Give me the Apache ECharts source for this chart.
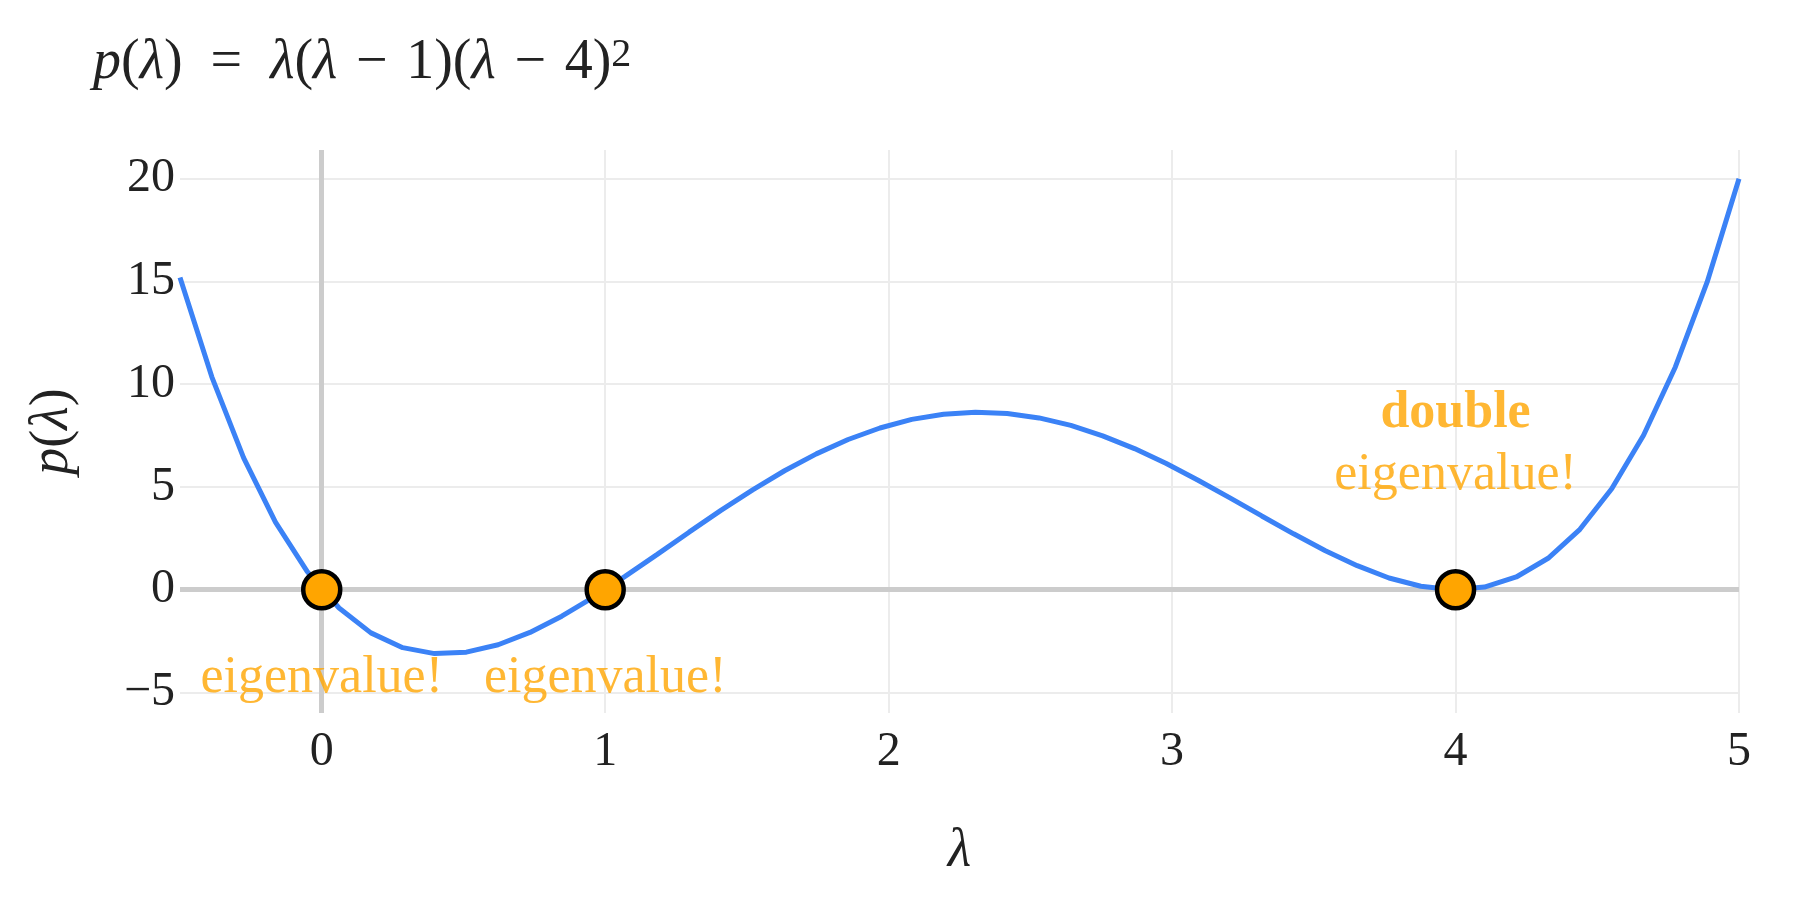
<!DOCTYPE html>
<html><head><meta charset="utf-8">
<script src="https://cdn.jsdelivr.net/npm/echarts@6/dist/echarts.min.js"></script>
<style>html,body{margin:0;padding:0;background:#fff}#c{width:1800px;height:900px}</style>
</head><body><div id="c"></div>
<script>
const xValues = [-0.5, -0.3878, -0.2755, -0.1633, -0.051, 0.0612, 0.1735, 0.2857, 0.398, 0.5102,
  0.6224, 0.7347, 0.8469, 0.9592, 1.0714, 1.1837, 1.2959, 1.4082, 1.5204, 1.6327,
  1.7449, 1.8571, 1.9694, 2.0816, 2.1939, 2.3061, 2.4184, 2.5306, 2.6429, 2.7551,
  2.8673, 2.9796, 3.0918, 3.2041, 3.3163, 3.4286, 3.5408, 3.6531, 3.7653, 3.8776,
  3.9898, 4.102, 4.2143, 4.3265, 4.4388, 4.551, 4.6633, 4.7755, 4.8878, 5];
const pValues = [15.19, 10.36, 6.42, 3.29, 0.88, -0.89, -2.10, -2.82, -3.11, -3.04,
  -2.68, -2.08, -1.29, -0.36, 0.66, 1.72, 2.80, 3.86, 4.86, 5.79,
  6.61, 7.31, 7.87, 8.29, 8.54, 8.64, 8.58, 8.36, 8.00, 7.49,
  6.87, 6.14, 5.33, 4.47, 3.59, 2.72, 1.90, 1.17, 0.57, 0.17,
  0.00, 0.13, 0.62, 1.53, 2.94, 4.91, 7.52, 10.84, 14.98, 20];
const eigX = [0, 1, 4];
const eigY = [0, 0, 0];
const annoText = ['eigenvalue!', 'eigenvalue!', 'double\neigenvalue!'];
const annoX = [0, 1, 4];
const annoY = [-4.32, -4.32, 7.07];
const xTicks = [0, 1, 2, 3, 4, 5];
const yTicks = [-5, 0, 5, 10, 15, 20];

const SERIF = '"Liberation Serif", "DejaVu Serif", serif';
const INK = '#222222';
const ORANGE = '#FFA500';
const BLUE = '#3b82f6';
const SP = '\u2004';
const EN = '\u2002';

const mathRich = (size) => ({
  i: { fontFamily: SERIF, fontStyle: 'italic', fontWeight: 'normal', fontSize: size, color: INK },
  r: { fontFamily: SERIF, fontWeight: 'normal', fontSize: size, color: INK },
  s: { fontFamily: SERIF, fontWeight: 'normal', fontSize: Math.round(size * 0.72), color: INK, verticalAlign: 'top' }
});

const chart = echarts.init(document.getElementById('c'), null, { renderer: 'canvas' });
chart.setOption({
  backgroundColor: '#ffffff',
  animation: false,
  title: {
    text: '{i|p}{r|(}{i|λ}{r|)' + EN + '=' + EN + '}{i|λ}{r|(}{i|λ}{r|' + SP + '−' + SP + '1)(}{i|λ}{r|' + SP + '−' + SP + '4)}{s|2}',
    left: 88, top: 30,
    textStyle: { fontWeight: 'normal', rich: mathRich(56) }
  },
  grid: { left: 180, right: 61, top: 150, bottom: 187, outerBoundsMode: 'none' },
  xAxis: {
    type: 'value', min: -0.5, max: 5,
    name: 'λ', nameLocation: 'middle', nameGap: 112,
    nameTextStyle: { fontFamily: SERIF, fontStyle: 'italic', fontSize: 54, color: INK },
    axisLine: { show: false },
    axisTick: { show: false, customValues: xTicks },
    axisLabel: { customValues: xTicks, fontFamily: SERIF, fontSize: 48, color: INK, margin: 15 },
    splitLine: { show: true, lineStyle: { color: '#ececec', width: 2 } }
  },
  yAxis: {
    type: 'value', min: -6, max: 21.4,
    name: '{i|p}{r|(}{i|λ}{r|)}', nameLocation: 'middle', nameGap: 100,
    nameTextStyle: { rich: mathRich(54) },
    axisLine: { show: false },
    axisTick: { show: false, customValues: yTicks },
    axisLabel: {
      customValues: yTicks, fontFamily: SERIF, fontSize: 48, color: INK, margin: 5,
      formatter: (v) => String(v).replace('-', '−')
    },
    splitLine: { show: true, lineStyle: { color: '#ececec', width: 2 } }
  },
  series: [
    {
      type: 'line', z: 3,
      data: xValues.map((x, i) => [x, pValues[i]]),
      showSymbol: false, smooth: false,
      lineStyle: { color: BLUE, width: 5 },
      markLine: {
        silent: true, z: 1, symbol: 'none', label: { show: false },
        lineStyle: { color: '#cccccc', width: 5, type: 'solid' },
        data: [{ xAxis: 0 }, { yAxis: 0 }]
      }
    },
    {
      type: 'scatter', z: 5,
      data: eigX.map((x, i) => [x, eigY[i]]),
      symbolSize: 37,
      itemStyle: { color: ORANGE, borderColor: '#000000', borderWidth: 4.5, opacity: 1 }
    },
    {
      type: 'scatter', z: 6,
      data: annoX.map((x, i) => ({ value: [x, annoY[i]], name: annoText[i] })),
      symbolSize: 1,
      itemStyle: { color: 'rgba(0,0,0,0)' },
      label: {
        show: true, position: 'inside',
        formatter: (p) => {
          const parts = p.name.split('\n');
          return parts.length > 1 ? '{b|' + parts[0] + '}\n{n|' + parts[1] + '}' : '{n|' + parts[0] + '}';
        },
        rich: {
          b: { fontFamily: SERIF, fontWeight: 'bold', fontSize: 52, color: ORANGE, lineHeight: 62 },
          n: { fontFamily: SERIF, fontSize: 52, color: ORANGE, lineHeight: 62 }
        }
      }
    }
  ]
});
</script>
</body></html>
